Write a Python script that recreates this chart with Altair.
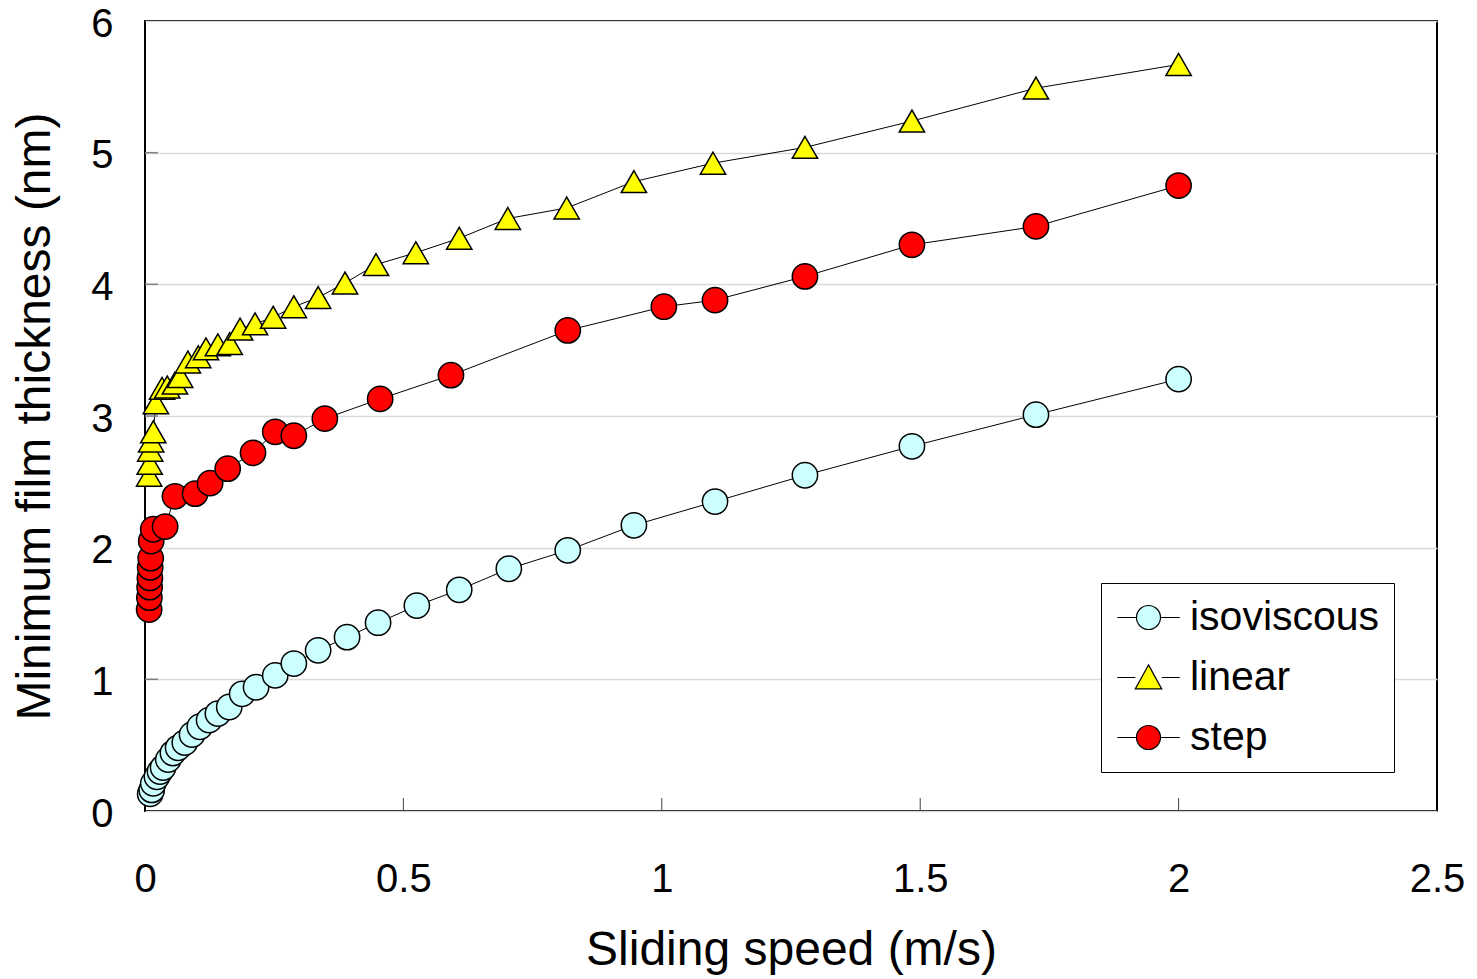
import altair as alt
import pandas as pd

# ---- data ----
iso_speed = [2.0, 1.724, 1.484, 1.277, 1.103, 0.946, 0.818, 0.704, 0.608, 0.526, 0.451, 0.391,
             0.335, 0.288, 0.252, 0.215, 0.188, 0.163, 0.141, 0.124, 0.106, 0.091, 0.077, 0.064,
             0.054, 0.045, 0.035, 0.029, 0.023, 0.016, 0.013, 0.010]
iso_h = [3.28, 3.01, 2.77, 2.55, 2.35, 2.17, 1.98, 1.84, 1.68, 1.56, 1.43, 1.32,
         1.22, 1.12, 1.03, 0.94, 0.89, 0.79, 0.74, 0.69, 0.64, 0.58, 0.52, 0.48,
         0.44, 0.39, 0.33, 0.30, 0.26, 0.21, 0.16, 0.13]

lin_speed = [2.0, 1.724, 1.484, 1.277, 1.099, 0.946, 0.816, 0.702, 0.608, 0.524, 0.447, 0.387,
             0.335, 0.288, 0.248, 0.213, 0.184, 0.164, 0.141, 0.118, 0.103, 0.083, 0.068, 0.058,
             0.043, 0.033, 0.021, 0.016, 0.012, 0.010, 0.009, 0.008]
lin_h = [5.67, 5.49, 5.24, 5.04, 4.92, 4.78, 4.58, 4.50, 4.35, 4.24, 4.15, 4.01,
         3.90, 3.83, 3.75, 3.70, 3.66, 3.55, 3.54, 3.51, 3.45, 3.41, 3.30, 3.25,
         3.22, 3.21, 3.10, 2.88, 2.81, 2.74, 2.64, 2.55]

step_speed = [2.0, 1.724, 1.484, 1.277, 1.103, 1.004, 0.818, 0.592, 0.455, 0.348, 0.288, 0.252,
              0.209, 0.160, 0.126, 0.097, 0.058, 0.039, 0.016, 0.012, 0.011, 0.010, 0.0095,
              0.009, 0.0085, 0.008]
step_h = [4.75, 4.44, 4.30, 4.06, 3.88, 3.83, 3.65, 3.31, 3.13, 2.98, 2.85, 2.88,
          2.72, 2.60, 2.49, 2.41, 2.39, 2.16, 2.14, 2.05, 1.92, 1.85, 1.77,
          1.70, 1.62, 1.53]

series_names = ["isoviscous", "linear", "step"]
series_fill = ["#CCFFFF", "#FFFF00", "#FF0000"]
series_shape = ["circle", "triangle-up", "circle"]
legend_shapes = [
    "M-2.6,0H-1M1,0H2.6M1,0A1,1 0 1,1 -1,0A1,1 0 1,1 1,0Z",
    "M-2.6,0H-1.1M1.1,0H2.6M0,-1.05L1.1,0.95L-1.1,0.95Z",
    "M-2.6,0H-1M1,0H2.6M1,0A1,1 0 1,1 -1,0A1,1 0 1,1 1,0Z",
]
x_ticks = [0.5, 1.0, 1.5, 2.0]
y_ticks = [1, 2, 3, 4, 5]

rows = []
for name, sp, hh in [("isoviscous", iso_speed, iso_h), ("linear", lin_speed, lin_h), ("step", step_speed, step_h)]:
    for s, h in zip(sp, hh):
        rows.append({"series": name, "speed": s, "h": h})
df = pd.DataFrame(rows)

W, H = 1292, 790
FONT = "Liberation Sans"

xscale = alt.Scale(domain=[0, 2.5], nice=False)
yscale = alt.Scale(domain=[0, 6], nice=False)

x_enc = alt.X("speed:Q", scale=xscale,
              axis=alt.Axis(title="Sliding speed (m/s)", values=[0, 0.5, 1, 1.5, 2, 2.5],
                            format="~g", grid=False, ticks=False, domain=False,
                            labelFontSize=40, labelPadding=48, labelFont=FONT,
                            labelColor="black", titleFont=FONT, titleFontSize=48,
                            titleFontWeight="normal", titleColor="black", titlePadding=27,
                            labelFlush=False))
y_enc = alt.Y("h:Q", scale=yscale,
              axis=alt.Axis(title="Minimum film thickness (nm)", values=[0, 1, 2, 3, 4, 5, 6],
                            format="d", labelOffset=3,
                            grid=True, gridColor="#D9D9D9", gridWidth=1.5, ticks=False,
                            domain=False, labelFontSize=40, labelPadding=32, labelFont=FONT,
                            labelColor="black", titleFont=FONT, titleFontSize=48,
                            titleFontWeight="normal", titleColor="black", titlePadding=31,
                            labelFlush=False))

base = alt.Chart(df)

lines = base.mark_line(color="black", strokeWidth=1).encode(
    x=x_enc, y=y_enc, detail="series:N", order="speed:Q")

points = base.mark_point(filled=True, size=640, stroke="black", strokeWidth=1.5, opacity=1).encode(
    x="speed:Q", y="h:Q",
    shape=alt.Shape("series:N", scale=alt.Scale(domain=series_names, range=series_shape), legend=None),
    fill=alt.Fill("series:N", scale=alt.Scale(domain=series_names, range=series_fill), legend=None),
    order=alt.Order("speed:Q", sort="ascending"),
)

legend_layer = base.transform_filter("false").mark_point(
    filled=False, size=576, strokeWidth=1.2, opacity=1).encode(
    x="speed:Q", y="h:Q",
    shape=alt.Shape("series:N", scale=alt.Scale(domain=series_names, range=legend_shapes),
                    legend=alt.Legend(title=None, orient="none", legendX=956, legendY=562,
                                      padding=14, strokeColor="black", fillColor="white",
                                      labelFont=FONT, labelFontSize=41, labelColor="black",
                                      rowPadding=18, symbolOffset=13, labelOffset=21,
                                      labelLimit=400,
                                      symbolStrokeColor="black", symbolStrokeWidth=1.2,
                                      symbolOpacity=1, symbolSize=576, cornerRadius=0)),
    fill=alt.Fill("series:N", scale=alt.Scale(domain=series_names, range=series_fill)),
    stroke=alt.Stroke("series:N", scale=alt.Scale(domain=series_names, range=["black", "black", "black"])),
)

xt_df = pd.DataFrame({"t": x_ticks})
yt_df = pd.DataFrame({"t": y_ticks})
xticks = alt.Chart(xt_df).mark_rule(color="#404040", strokeWidth=1).encode(
    x=alt.X("t:Q", scale=xscale), y=alt.value(H - 13), y2=alt.value(H))
yticks = alt.Chart(yt_df).mark_rule(color="#808080", strokeWidth=1.5).encode(
    y=alt.Y("t:Q", scale=yscale), x=alt.value(0), x2=alt.value(13))

chart = alt.layer(lines, xticks, yticks, points, legend_layer).resolve_scale(
    shape="independent", fill="independent", stroke="independent"
).properties(
    width=W, height=H,
    autosize=alt.AutoSizeParams(type="none"),
    padding={"left": 137, "top": 13, "right": 30, "bottom": 166},
    background="white",
).configure_view(stroke="black", strokeWidth=2)

chart.save("out.html", embed_options={"renderer": "svg", "actions": False})
